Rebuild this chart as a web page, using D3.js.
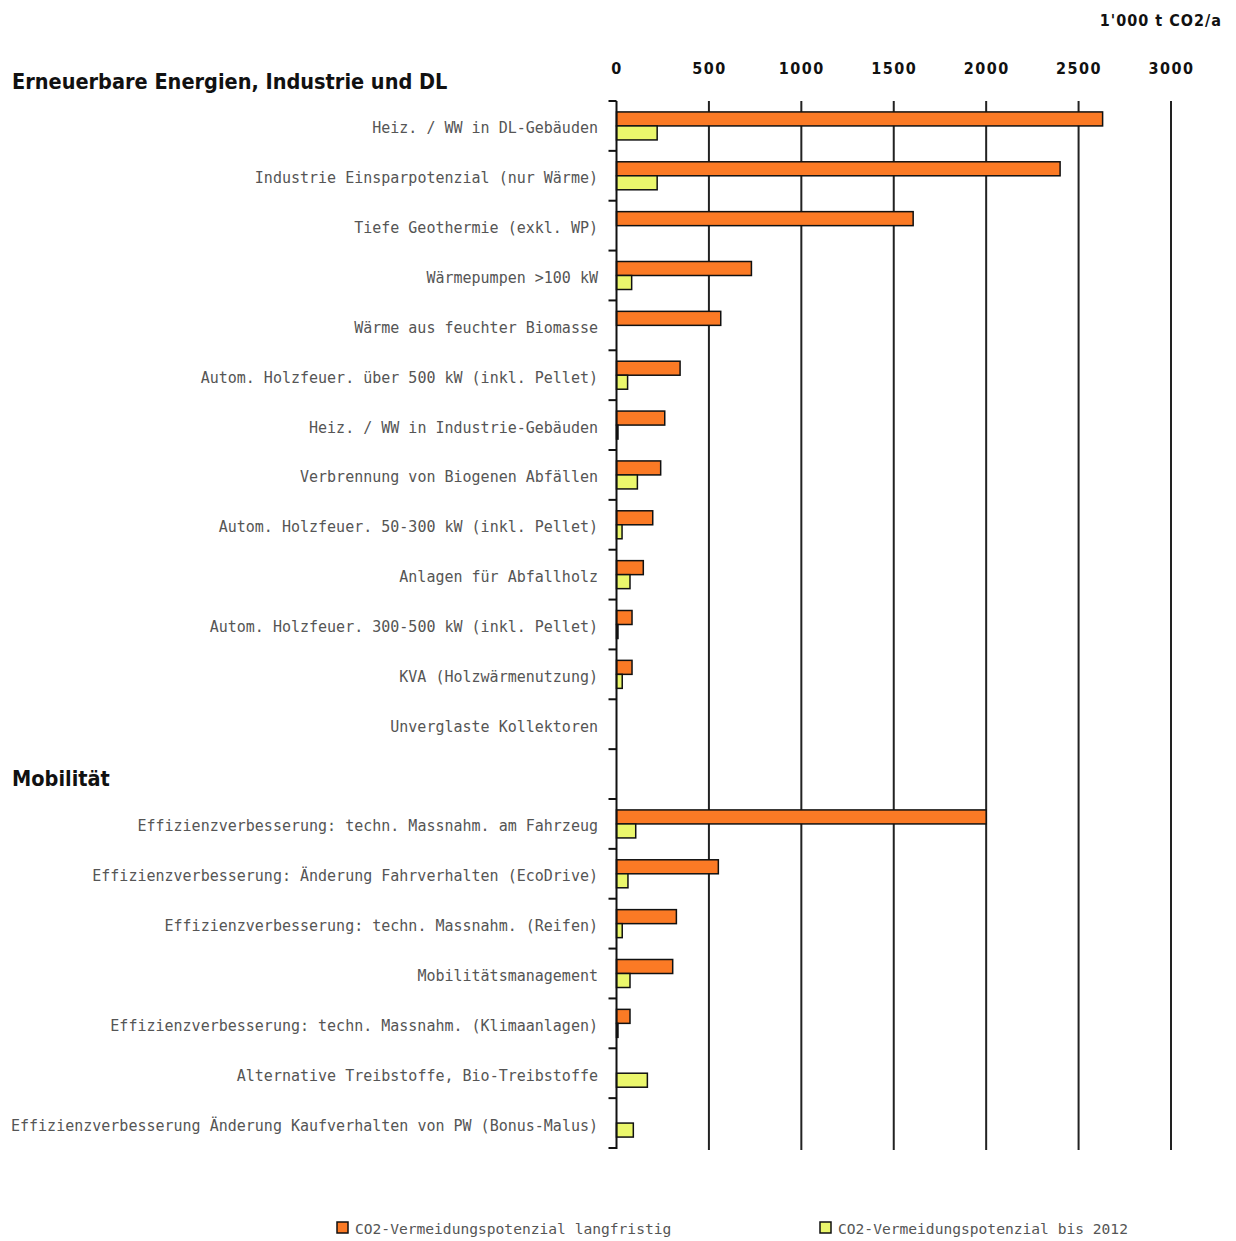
<!DOCTYPE html>
<html><head><meta charset="utf-8">
<script src="https://cdn.jsdelivr.net/npm/d3@7"></script>
<style>body{margin:0;background:#fff}</style>
</head><body>
<svg id="c" width="1236" height="1241"></svg>
<script>
const categories = [
  "Heiz. / WW in DL-Gebäuden",
  "Industrie Einsparpotenzial (nur Wärme)",
  "Tiefe Geothermie (exkl. WP)",
  "Wärmepumpen >100 kW",
  "Wärme aus feuchter Biomasse",
  "Autom. Holzfeuer. über 500 kW (inkl. Pellet)",
  "Heiz. / WW in Industrie-Gebäuden",
  "Verbrennung von Biogenen Abfällen",
  "Autom. Holzfeuer. 50-300 kW (inkl. Pellet)",
  "Anlagen für Abfallholz",
  "Autom. Holzfeuer. 300-500 kW (inkl. Pellet)",
  "KVA (Holzwärmenutzung)",
  "Unverglaste Kollektoren",
  "",
  "Effizienzverbesserung: techn. Massnahm. am Fahrzeug",
  "Effizienzverbesserung: Änderung Fahrverhalten (EcoDrive)",
  "Effizienzverbesserung: techn. Massnahm. (Reifen)",
  "Mobilitätsmanagement",
  "Effizienzverbesserung: techn. Massnahm. (Klimaanlagen)",
  "Alternative Treibstoffe, Bio-Treibstoffe",
  "Effizienzverbesserung Änderung Kaufverhalten von PW (Bonus-Malus)"
];
const langfristig = [2630, 2400, 1605, 730, 564, 344, 261, 239, 196, 145, 84, 84, 0, null, 2000, 551, 324, 304, 73, 0, 0];
const bis2012 =     [220, 220, 0, 82, 0, 60, 8, 113, 30, 73, 8, 31, 0, null, 104, 62, 31, 73, 8, 167, 91];
const groups = [{name:"Erneuerbare Energien, Industrie und DL", row:-1}, {name:"Mobilität", row:13}];
const xTicks = [0, 500, 1000, 1500, 2000, 2500, 3000];
const seriesNames = ["CO2-Vermeidungspotenzial langfristig", "CO2-Vermeidungspotenzial bis 2012"];
const unitLabel = "1'000 t CO2/a";
const colors = ["#fb7a25", "#ebf76c"];

const svg = d3.select("#c");
const x = d3.scaleLinear().domain([0, 3000]).range([616.5, 1171]);
const y = d3.scaleBand().domain(d3.range(categories.length)).range([101, 1148]).padding(0);
const bw = y.bandwidth();
const barH = 14;

const labelFont = "'DejaVu Sans Mono', monospace";
const boldFont = "'DejaVu Sans Condensed', 'DejaVu Sans', sans-serif";

// gridlines
svg.append("g").selectAll("line").data(xTicks.slice(1)).join("line")
  .attr("x1", d => x(d)).attr("x2", d => x(d))
  .attr("y1", 101).attr("y2", 1150)
  .attr("stroke", "#222").attr("stroke-width", 2);

// top axis labels
const xa = svg.append("g").attr("transform", "translate(0,74)")
  .call(d3.axisTop(x).tickValues(xTicks).tickFormat(d3.format("d")).tickSize(0).tickPadding(0));
xa.select(".domain").remove();
xa.selectAll("text").attr("font-family", boldFont).attr("font-weight", "bold")
  .attr("font-size", 16).attr("letter-spacing", 1.5).attr("fill", "#111");

svg.append("text").attr("x", 1222).attr("y", 26).attr("text-anchor", "end")
  .attr("font-family", boldFont).attr("font-weight", "bold").attr("font-size", 16)
  .attr("letter-spacing", 1).attr("fill", "#111").text(unitLabel);

// bars
const rows = categories.map((c, i) => ({i, c, a: langfristig[i], b: bis2012[i]}));
const g = svg.append("g");
rows.forEach(r => {
  const top = y(r.i) + (bw - 2 * barH) / 2;
  if (r.a) g.append("rect").attr("x", x(0)).attr("y", top)
    .attr("width", x(r.a) - x(0)).attr("height", barH)
    .attr("fill", colors[0]).attr("stroke", "#111").attr("stroke-width", 1.5);
  if (r.b) g.append("rect").attr("x", x(0)).attr("y", top + barH)
    .attr("width", x(r.b) - x(0)).attr("height", barH)
    .attr("fill", colors[1]).attr("stroke", "#111").attr("stroke-width", 1.5);
});

// y axis line and boundary ticks
svg.append("line").attr("x1", x(0)).attr("x2", x(0)).attr("y1", 101).attr("y2", 1149)
  .attr("stroke", "#111").attr("stroke-width", 2);
svg.append("g").selectAll("line").data(d3.range(categories.length + 1)).join("line")
  .attr("x1", x(0) - 8).attr("x2", x(0))
  .attr("y1", d => d < categories.length ? y(d) : y(d - 1) + bw)
  .attr("y2", d => d < categories.length ? y(d) : y(d - 1) + bw)
  .attr("stroke", "#111").attr("stroke-width", 2);

// category labels
svg.append("g").selectAll("text").data(rows.filter(r => r.c)).join("text")
  .attr("x", 598).attr("y", r => y(r.i) + bw / 2 + 3)
  .attr("text-anchor", "end").attr("dominant-baseline", "middle")
  .attr("font-family", labelFont).attr("font-size", 15).attr("fill", "#555")
  .text(r => r.c);

// group headings
svg.append("g").selectAll("text").data(groups).join("text")
  .attr("x", 12).attr("y", d => d.row < 0 ? 89 : y(d.row) + bw / 2 + 12)
  .attr("font-family", boldFont).attr("font-weight", "bold").attr("font-size", 21.5)
  .attr("fill", "#111").text(d => d.name);

// legend
const leg = svg.append("g");
[337, 820].forEach((lx, k) => {
  leg.append("rect").attr("x", lx).attr("y", 1222).attr("width", 11).attr("height", 11)
    .attr("fill", colors[k]).attr("stroke", "#111").attr("stroke-width", 1.5);
  leg.append("text").attr("x", lx + 18).attr("y", 1234)
    .attr("font-family", labelFont).attr("font-size", 14.6).attr("fill", "#555")
    .text(seriesNames[k]);
});
</script>
</body></html>
